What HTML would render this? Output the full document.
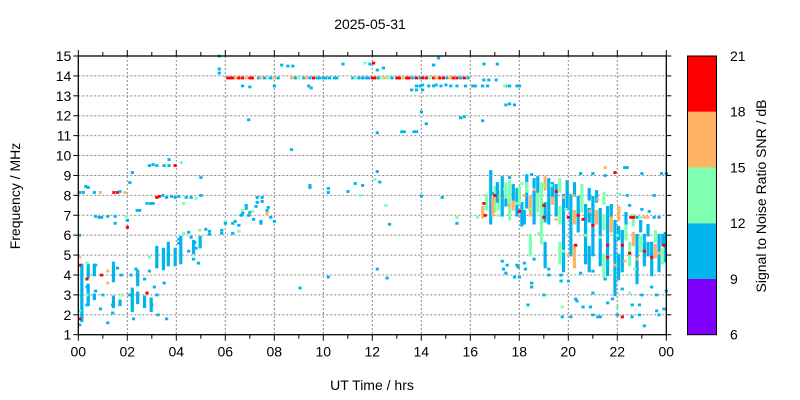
<!DOCTYPE html>
<html><head><meta charset="utf-8"><style>
body{margin:0;background:#fff}
svg{display:block;font-family:"Liberation Sans",sans-serif}
</style></head><body>
<svg id="chart" width="800" height="400" viewBox="0 0 800 400" xmlns="http://www.w3.org/2000/svg">
<text x="370" y="29" font-size="14" text-anchor="middle">2025-05-31</text>
<g id="grid"></g>
<g id="marks"></g>
<g id="axes"></g>
<text x="372" y="390" font-size="14" text-anchor="middle">UT Time / hrs</text>
<text transform="translate(20,196) rotate(-90)" font-size="14" text-anchor="middle">Frequency / MHz</text>
<g id="cbar"></g>
<text transform="translate(766,196) rotate(-90)" font-size="14" text-anchor="middle">Signal to Noise Ratio SNR / dB</text>
</svg>
<script>
const xTickLabels=["00","02","04","06","08","10","12","14","16","18","20","22","00"];
const yTickLabels=[1,2,3,4,5,6,7,8,9,10,11,12,13,14,15];
const cbarTicks=[6,9,12,15,18,21];
const cbarColors=["#8000ff","#00b4ee","#80ffb0","#ffb464","#ff0000"];

// 14 MHz row
const row14Hours=[6.1,6.2,6.3,6.45,6.55,6.7,6.85,7.0,7.1,7.35,7.45,7.6,7.75,7.85,8.0,8.15,8.7,8.85,9.0,9.2,9.3,9.45,9.6,9.75,9.85,10.0,10.1,10.25,10.45,10.55,11.2,11.3,11.45,11.6,11.75,11.85,12.0,12.1,12.25,12.35,12.5,12.65,12.8,13.0,13.1,13.25,13.4,13.5,13.65,13.8,13.95,14.05,14.2,14.35,14.5,14.6,14.75,14.9,15.05,15.15,15.3,15.45,15.6,15.75,15.9];
const row14Snr=[19,19,19,16,19,19,16,19,19,10,16,10,13,10,16,10,16,10,13,10,16,10,19,10,10,10,10,10,10,10,10,13,10,10,10,10,19,19,10,13,16,13,10,19,19,16,19,19,10,19,10,19,19,13,19,16,19,19,10,16,19,19,10,19,10];
const row14Freq=13.9;

// scattered points
const ptHours=[8.3,8.55,8.75,10.8,11.7,11.9,12.05,5.75,5.75,5.75,6.7,7.0,8.0,9.4,9.5,6.95,8.7,12.2,12.2,12.45,14.7,14.5,16.55,17.1,
13.8,13.95,14.05,14.3,14.5,14.6,14.8,15.0,15.2,15.45,15.8,16.1,16.2,16.5,16.7,17.45,13.6,13.8,14.05,
16.55,16.75,17.05,17.4,17.6,17.9,18.0,17.45,17.6,17.8,15.6,15.75,16.5,14.2,13.2,13.3,13.7,13.8,14.0,
0.05,0.2,0.65,0.9,1.45,1.6,1.7,1.9,0.4,2.9,3.05,3.2,3.5,3.7,3.95,3.7,4.2,
3.2,3.3,3.45,3.6,3.8,3.95,4.1,4.4,4.6,4.8,5.0,4.3,2.8,2.95,3.05,2.1,0.3,5.0,2.4,2.5,
0.7,0.85,0.95,1.2,1.5,1.95,1.5,2.0,2.0,0.05,2.2,
4.1,4.1,4.3,4.5,4.6,4.75,4.95,5.2,5.35,5.35,5.85,5.85,4.7,4.9,4.8,4.5,
6.0,6.0,6.3,6.4,6.55,6.65,6.7,6.7,6.85,6.85,6.95,7.0,7.1,7.25,7.3,7.3,7.5,7.5,7.7,7.7,7.75,7.45,7.45,7.85,8.0,6.3,6.55,7.15,
9.45,9.45,10.2,10.2,11.0,11.3,11.5,11.6,12.1,10.2,9.05,12.2,12.6,12.2,12.55,12.7,12.3,14.0,14.85,15.45,15.45,
17.3,17.5,17.35,17.45,17.9,18.2,17.8,18.0,17.95,18.25,18.6,19.2,19.2,18.5,18.5,19.0,18.35,19.7,19.7,20.0,19.75,19.75,20.1,20.3,20.6,20.35,20.9,21.0,21.2,21.0,21.6,21.8,22.0,22.0,22.2,22.6,22.5,22.9,22.9,23.0,23.4,23.6,23.6,23.7,23.9,24.0,23.1,22.2,21.3,22.6,21.0,20.5,21.5,
21.5,21.9,22.3,22.4,23.0,23.8,24.0,21.5,20.5,21.0,18.5,17.6,16.9,19.0,22.1,22.4,23.5,22.5,23.0,23.3,
22.55,22.65,22.8,23.1,23.25,23.5,23.7,22.95,
17.0,17.2,17.6,18.0,18.2,18.6,19.0,19.0,19.4,19.5,19.5,19.8,20.0,20.2,20.4,20.6,20.9,21.0,21.2,21.6,21.6,21.9,22.2,22.3,22.5,22.8,23.1,23.4,23.7,23.9,20.0,20.3,19.8,18.8,17.9,17.4,18.4,19.3,20.7,21.3,22.0,23.0,22.7,18.1,19.9,17.15,16.3,16.5,16.6,16.55,
0.05,0.05,0.05,0.35,0.35,0.7,0.35,0.9,1.2,1.4,1.4,1.0,1.75,1.8,2.1,2.2,2.25,2.35,2.7,2.8,3.0,3.1,3.2,3.25,3.6,0.7,0.95,1.2,1.6,2.15,2.9,3.5,0.35,0.05,0.05,0.35,1.2,2.9];
const ptFreqs=[14.55,14.5,14.5,14.6,14.65,14.6,14.65,15.0,14.35,14.15,13.5,13.45,13.5,13.5,13.4,11.8,10.3,11.15,14.3,14.4,14.9,14.55,14.6,14.6,
13.5,13.5,13.55,13.5,13.5,13.55,13.5,13.55,13.5,13.5,13.5,13.5,13.5,13.5,13.5,13.5,13.3,13.3,13.3,
13.8,13.8,13.8,13.5,13.5,13.5,13.5,12.55,12.6,12.55,11.9,11.95,11.75,11.6,11.2,11.2,11.2,11.2,12.2,
8.15,8.15,8.15,8.15,8.15,8.15,8.2,8.15,8.4,9.5,9.55,9.5,9.5,9.5,9.5,9.8,9.65,
7.9,7.95,8.0,7.9,7.95,7.9,7.95,7.9,7.9,7.85,8.0,7.6,7.6,7.6,7.6,8.65,8.45,8.9,7.25,7.25,
6.95,6.9,6.9,6.95,6.95,6.95,6.6,6.4,6.75,6.0,9.15,
5.8,5.6,6.1,6.15,5.9,5.65,6.25,6.3,6.2,6.05,6.25,6.1,4.8,4.6,5.35,5.2,
6.7,6.6,6.6,6.7,6.5,7.0,7.25,7.1,7.5,7.35,7.0,7.15,7.2,7.45,7.9,7.65,7.9,7.7,7.25,7.1,7.4,6.7,6.6,6.9,6.7,6.1,6.2,6.8,
8.4,8.5,8.35,8.15,8.2,8.6,8.0,8.5,8.8,3.9,3.35,4.3,3.85,9.2,7.5,6.55,8.67,7.97,7.9,6.9,6.6,
4.7,4.5,4.3,4.1,4.5,4.6,3.9,3.9,4.4,4.3,4.8,4.3,4.0,3.6,3.4,3.0,2.5,3.7,4.0,3.7,2.4,1.9,1.9,2.8,2.4,2.7,2.4,2.0,1.9,3.1,2.6,2.8,2.4,2.0,3.3,2.5,3.1,2.5,2.0,3.0,3.4,3.0,2.2,2.0,2.3,3.2,1.45,1.9,1.9,1.9,4.2,4.1,3.8,
9.4,9.15,9.4,9.4,9.1,9.1,9.1,9.0,9.1,9.1,9.05,8.9,8.1,8.5,8.05,8.0,8.0,7.5,7.3,7.2,
6.9,6.9,6.9,6.9,6.9,6.9,6.9,6.9,
8.0,7.9,7.5,7.2,8.0,8.3,7.5,6.9,7.6,8.2,6.8,7.9,6.9,8.0,7.0,6.8,7.2,6.5,7.8,5.5,4.9,4.5,5.5,4.7,5.1,4.8,5.2,4.9,5.1,5.5,5.0,5.5,5.2,6.1,7.6,8.3,7.3,8.5,6.0,5.9,6.0,5.7,4.3,8.6,7.3,7.0,6.9,7.3,7.0,7.6,
1.5,1.8,2.2,2.5,3.4,3.2,3.0,2.3,1.6,2.1,2.5,3.0,4.0,3.0,3.0,2.5,1.8,4.3,3.8,3.1,2.5,3.4,3.0,2.0,1.8,4.5,4.0,4.2,4.35,4.0,4.2,3.6,4.6,4.9,4.5,3.8,3.6,4.9];
const ptSnr=[10,10,10,10,13,10,19,10,10,10,10,10,10,10,10,10,10,10,10,10,10,10,10,10,
10,10,10,10,10,10,10,10,10,10,10,10,10,10,10,10,10,10,10,
10,10,10,13,10,10,10,10,10,10,10,10,10,10,10,10,10,10,10,
10,10,10,16,19,19,10,16,10,10,10,10,10,10,19,10,13,
19,19,10,10,10,10,10,10,10,13,10,13,10,10,10,10,10,10,10,10,
10,10,10,10,10,13,10,19,10,10,10,
10,10,13,10,10,10,13,10,10,10,10,10,10,10,10,10,
13,10,10,10,10,10,13,10,10,10,10,10,13,10,10,10,10,10,10,16,10,10,10,10,10,10,13,10,
10,10,10,10,10,10,13,10,13,10,10,10,10,10,13,10,10,10,10,13,10,
10,10,10,10,10,10,10,10,10,10,10,10,10,10,10,10,10,10,10,10,13,10,10,10,10,10,10,10,10,10,10,10,13,10,10,10,13,10,10,10,10,10,10,10,10,10,10,19,10,10,10,10,10,
16,19,10,10,10,10,10,10,10,10,10,10,10,13,13,10,10,10,10,10,
19,19,10,16,16,10,10,13,
19,16,16,19,16,16,19,19,16,19,16,16,19,16,19,19,16,19,16,19,19,16,19,16,19,16,19,19,16,19,16,19,13,13,13,13,13,13,13,13,13,13,13,13,13,13,13,16,19,19,
10,19,13,10,10,10,13,10,10,10,10,10,10,13,10,10,10,10,10,19,10,10,10,10,10,10,19,16,10,10,10,10,13,16,19,19,16,13];

// vertical runs of consecutive detections
const colHours=[0.14,0.4,0.4,0.65,0.65,1.43,1.43,1.7,2.2,2.42,2.42,2.7,2.97,3.2,3.47,3.67,3.95,4.18,4.7,4.97,
16.83,17.0,17.3,17.6,17.9,18.1,18.3,18.6,18.9,19.2,19.5,19.8,20.1,20.4,20.7,21.0,21.3,21.6,21.9,22.2,22.5,22.8,23.1,23.4,23.7,23.95,
16.5,16.65,16.92,17.15,17.45,17.75,18.0,18.2,18.45,18.75,19.05,19.35,19.65,19.95,20.25,20.55,20.85,21.15,21.45,21.75,22.05,22.35,22.65,22.95,23.25,23.55,23.85,
17.1,17.45,17.75,18.3,18.75,19.05,19.35,19.65,19.95,20.25,20.55,20.85,21.15,21.45,21.75,22.05,22.35,22.65,22.95,23.25,23.55,23.85,
18.45,19.05,19.65,20.25,20.85,21.45,22.05];
const colLow=[1.7,3.9,2.5,4.0,2.8,3.7,2.4,2.5,2.2,3.5,2.6,2.4,2.2,4.4,4.3,4.5,4.5,4.6,5.1,5.4,
6.6,7.2,7.0,6.8,7.0,6.5,7.4,6.6,5.6,6.6,7.0,4.2,5.0,6.2,4.6,5.0,4.5,4.0,3.0,4.2,4.5,3.6,4.5,4.0,4.2,4.7,
6.9,7.3,7.0,7.3,7.5,7.3,7.6,6.6,7.0,7.2,6.7,7.6,6.6,7.3,6.6,7.2,6.7,6.6,6.3,6.2,5.8,5.8,5.5,5.2,5.0,4.9,4.6,
7.7,7.9,7.8,8.2,8.2,8.3,8.0,8.2,8.1,8.0,7.9,7.8,7.7,7.6,7.0,6.8,6.6,6.5,6.2,6.0,5.7,5.5,
5.0,4.4,4.6,4.4,4.2,3.9,3.8];
const colHigh=[4.5,4.5,3.5,4.5,3.0,4.6,2.9,2.7,3.3,4.2,3.1,2.9,2.8,5.4,5.3,5.6,5.3,5.9,5.7,5.9,
9.2,8.4,8.9,8.7,8.3,7.6,9.0,8.8,8.6,8.8,8.5,8.0,8.0,7.9,7.5,7.9,7.3,7.4,6.7,6.2,5.6,6.0,6.0,5.6,6.0,6.1,
7.4,8.0,7.9,8.2,8.0,8.1,8.4,7.2,7.9,8.1,7.6,8.3,7.4,8.0,7.2,7.9,7.3,7.2,7.0,6.9,6.4,6.5,6.1,5.9,5.6,5.5,5.3,
8.6,8.6,8.5,8.6,8.9,8.9,8.6,8.8,8.7,8.6,8.5,8.3,8.2,8.1,7.5,7.4,7.1,7.0,6.7,6.5,6.2,6.0,
6.0,5.6,5.6,5.5,5.4,5.0,5.0];
const colSnr=[10,10,10,10,10,10,10,10,10,10,10,10,10,10,10,10,10,10,10,10,
10,13,10,13,10,10,10,10,13,10,10,10,10,10,10,10,10,10,10,10,13,10,10,10,10,10,
16,13,16,13,10,16,13,10,16,13,10,16,13,10,16,13,10,16,13,16,10,13,16,13,10,16,13,
10,13,10,13,10,16,10,13,10,10,13,10,10,13,10,16,10,13,10,10,13,10,
13,10,13,16,10,13,10];

const X0=78.3,X1=666.3,Y0=334.7,Y1=56;
const xs=h=>X0+(h/24)*(X1-X0);
const ys=f=>Y0-(f-1)/14*(Y0-Y1);
const colorOf=s=>s>=18?cbarColors[4]:s>=15?cbarColors[3]:s>=12?cbarColors[2]:s>=9?cbarColors[1]:cbarColors[0];
const NS="http://www.w3.org/2000/svg";
function mk(tag,attrs,parent){const e=document.createElementNS(NS,tag);for(const k in attrs)e.setAttribute(k,attrs[k]);parent.appendChild(e);return e;}

const grid=document.getElementById('grid'),marks=document.getElementById('marks'),axes=document.getElementById('axes'),cbar=document.getElementById('cbar');
xTickLabels.forEach((t,i)=>{const x=xs(i*2);
 if(i>0&&i<12){const g=mk('line',{x1:x,x2:x,y1:Y1,y2:Y0,stroke:'#888','stroke-dasharray':'2,2','stroke-width':1},grid);
 
 }
 const tx=mk('text',{x:x,y:Y0+22,'font-size':14,'text-anchor':'middle'},axes);tx.textContent=t;
 
 
});
for(let h=0;h<=24;h++){const x=xs(h);const l=h%2?4:6;
 mk('line',{x1:x,x2:x,y1:Y0,y2:Y0+l,stroke:'#000'},axes);mk('line',{x1:x,x2:x,y1:Y1,y2:Y1-l,stroke:'#000'},axes);}
yTickLabels.forEach(v=>{const y=ys(v);
 if(v>1&&v<15){const g=mk('line',{x1:X0,x2:X1,y1:y,y2:y,stroke:'#888','stroke-dasharray':'2,2'},grid);
 
 }
 mk('line',{x1:X0-5,x2:X0,y1:y,y2:y,stroke:'#000'},axes);mk('line',{x1:X1,x2:X1+5,y1:y,y2:y,stroke:'#000'},axes);
 const tx=mk('text',{x:X0-7,y:y+5,'font-size':14,'text-anchor':'end'},axes);tx.textContent=v;
 
 
});
const fr=mk('rect',{x:X0,y:Y1,width:X1-X0,height:Y0-Y1,fill:'none',stroke:'#000','stroke-width':1.3},axes);



function pt(h,f,s){const r=mk('rect',{x:xs(h)-1.5,y:ys(f)-1.3,width:3.2,height:2.8,fill:colorOf(s)},marks);
 
 }
colHours.forEach((h,i)=>{const y1=ys(colHigh[i]),y2=ys(colLow[i]);
 const r=mk('rect',{x:xs(h)-1.5,y:y1-1.3,width:3.2,height:y2-y1+2.6,fill:colorOf(colSnr[i])},marks);
 
 });
row14Hours.forEach((h,i)=>pt(h,row14Freq,row14Snr[i]??10));
ptHours.forEach((h,i)=>{if(ptFreqs[i]!==undefined)pt(h,ptFreqs[i],ptSnr[i]??10);});

const CX=687.5,CW=29;const cy=v=>Y0-(v-6)/15*(Y0-Y1);
cbarColors.forEach((c,i)=>{const r=mk('rect',{x:CX,y:cy(cbarTicks[i+1]),width:CW,height:cy(cbarTicks[i])-cy(cbarTicks[i+1]),fill:c},cbar);
 
 });
mk('rect',{x:CX,y:Y1,width:CW,height:Y0-Y1,fill:'none',stroke:'#000'},cbar);
cbarTicks.forEach(v=>{const tx=mk('text',{x:730,y:cy(v)+5,'font-size':14},cbar);tx.textContent=v;
 
 });
</script>
</body></html>
